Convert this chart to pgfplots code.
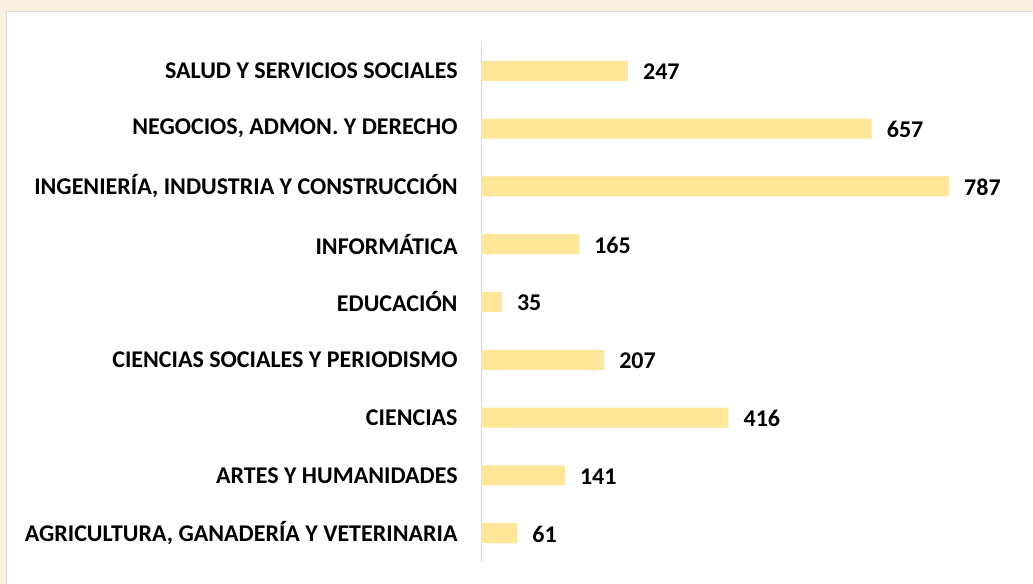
\documentclass[border=0pt]{standalone}
\usepackage{pgfplots}
\pgfplotsset{compat=1.18}
\usepackage{fontspec}
\setmainfont{Carlito}
\definecolor{barcol}{RGB}{255,230,153}
\definecolor{bgcol}{RGB}{251,239,224}
\definecolor{framecol}{RGB}{217,217,217}
\begin{document}
\begin{tikzpicture}
\useasboundingbox (0,0) rectangle (1033bp,584bp);
\fill[bgcol] (0,0) rectangle (1033bp,584bp);
\fill[white,draw=framecol,line width=1bp] (6bp,-5bp) rectangle (1040bp,572bp);
\begin{axis}[
  at={(481bp,22bp)}, anchor=south west,
  scale only axis, width=468bp, height=520bp,
  xbar, bar width=20bp, bar shift=0pt,
  xmin=0, xmax=787, ymin=-0.5, ymax=8.5,
  hide x axis,
  axis y line*=left,
  y axis line style={draw=framecol, line width=1bp, -},
  ytick={0,...,8},
  ytick style={draw=none},
  yticklabels={{AGRICULTURA, GANADERÍA Y VETERINARIA},{ARTES Y HUMANIDADES},{CIENCIAS},{CIENCIAS SOCIALES Y PERIODISMO},{EDUCACIÓN},{INFORMÁTICA},{INGENIERÍA, INDUSTRIA Y CONSTRUCCIÓN},{NEGOCIOS, ADMON. Y DERECHO},{SALUD Y SERVICIOS SOCIALES}},
  yticklabel style={font=\fontsize{24bp}{28bp}\selectfont\bfseries, anchor=east, inner sep=0pt, xshift=-19bp},
  /pgf/number format/assume math mode=true,
  nodes near coords,
  every node near coord/.append style={font=\fontsize{24bp}{28bp}\selectfont\bfseries, anchor=west, inner sep=0pt, xshift=15bp, yshift=-1bp},
  clip=false,
]
\addplot[fill=barcol, draw=none] coordinates {
(61,0) (141,1) (416,2) (207,3) (35,4) (165,5) (787,6) (657,7) (247,8)
};
\end{axis}
\end{tikzpicture}
\end{document}
